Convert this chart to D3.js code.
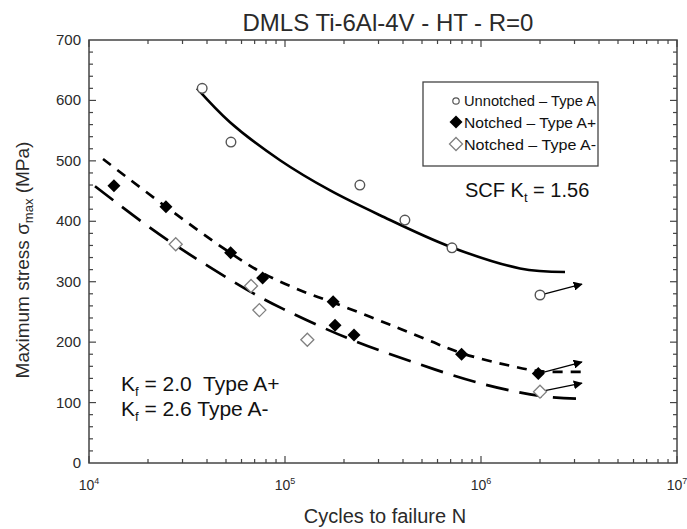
<!DOCTYPE html>
<html>
<head>
<meta charset="utf-8">
<script src="https://cdn.jsdelivr.net/npm/d3@7/dist/d3.min.js"></script>
<style>
  html, body { margin: 0; padding: 0; background: #fff; }
  svg { display: block; font-family: "Liberation Sans", Arial, sans-serif; }
</style>
</head>
<body>
<svg id="chart" width="687" height="529"></svg>
<script>
// ---------- data ----------
const title = "DMLS Ti-6Al-4V - HT - R=0";
const xDecades = [1e4, 1e5, 1e6, 1e7];
const xTickExponents = [4, 5, 6, 7];
const yTicks = [0, 100, 200, 300, 400, 500, 600, 700];

// Unnotched – Type A (open circles)
const unnotchedN     = [37800, 53000, 241000, 409000, 711000];
const unnotchedS     = [620, 531, 460, 402, 356];
// Notched – Type A+ (filled diamonds)
const notchedPlusN   = [13400, 24700, 52800, 76900, 176000, 180000, 225000, 796000];
const notchedPlusS   = [459, 424, 348, 306, 267, 228, 212, 180];
// Notched – Type A- (open diamonds)
const notchedMinusN  = [27700, 67100, 74000, 130000];
const notchedMinusS  = [362, 293, 253, 204];

// run-outs (point, arrow tip)
const runoutSeries = ["unnotched", "plus", "minus"];
const runoutN      = [2.0e6, 1.96e6, 2.0e6];
const runoutS      = [278, 148, 118];
const runoutTipN   = [3.27e6, 3.27e6, 3.27e6];
const runoutTipS   = [296, 167, 132];

// fitted curves
const fitUnN  = [35560, 52400, 94300, 169900, 305200, 695000, 1581000, 2683000];
const fitUnS  = [620, 564, 501, 451, 410, 358, 322, 316];
const fitPlusN = [11790, 24710, 52400, 77220, 119300, 177800, 271500, 386200, 549200, 790700, 1406000, 2000000, 3475000];
const fitPlusS = [503, 424, 348, 314, 286, 265, 242, 222, 202, 182, 161, 152, 151];
const fitMinusN = [10730, 18640, 26830, 39990, 68670, 97680, 207200, 449900, 988000, 2000000, 3276000];
const fitMinusS = [458, 399, 363, 327, 281, 255, 207, 167, 132, 111, 106];

const legendLabels = ["Unnotched – Type A", "Notched – Type A+", "Notched – Type A-"];

// ---------- layout ----------
const svg = d3.select("#chart");
const M = { left: 89, right: 677, top: 40, bottom: 463 };
const x = d3.scaleLog().domain([1e4, 1e7]).range([M.left, M.right]);
const y = d3.scaleLinear().domain([0, 700]).range([M.bottom, M.top]);
const txt = "#2a2a2a";

// title
svg.append("text").attr("x", 388).attr("y", 31).attr("text-anchor", "middle")
  .attr("font-size", 24).attr("fill", txt).text(title);

// frame
svg.append("rect").attr("x", M.left).attr("y", M.top)
  .attr("width", M.right - M.left).attr("height", M.bottom - M.top)
  .attr("fill", "none").attr("stroke", "#444").attr("stroke-width", 1.5);

// x ticks (major + minor) inward on bottom and top
const xMinor = [];
for (let d = 4; d < 7; d++) for (let k = 2; k <= 9; k++) xMinor.push(k * Math.pow(10, d));
const xt = svg.append("g").attr("stroke", "#444").attr("stroke-width", 1.2);
xMinor.forEach(v => {
  xt.append("line").attr("x1", x(v)).attr("x2", x(v)).attr("y1", M.bottom).attr("y2", M.bottom - 4);
  xt.append("line").attr("x1", x(v)).attr("x2", x(v)).attr("y1", M.top).attr("y2", M.top + 4);
});
xDecades.forEach(v => {
  xt.append("line").attr("x1", x(v)).attr("x2", x(v)).attr("y1", M.bottom).attr("y2", M.bottom - 7);
  xt.append("line").attr("x1", x(v)).attr("x2", x(v)).attr("y1", M.top).attr("y2", M.top + 7);
});
// x tick labels 10^n
xDecades.forEach((v, i) => {
  const t = svg.append("text").attr("x", x(v)).attr("y", 490).attr("text-anchor", "middle")
    .attr("font-size", 14).attr("fill", txt);
  t.append("tspan").text("10");
  t.append("tspan").attr("font-size", 9).attr("dy", -6).text(xTickExponents[i]);
});

// y ticks every 20, major every 100
const yt = svg.append("g").attr("stroke", "#444").attr("stroke-width", 1.2);
d3.range(20, 700, 20).forEach(v => {
  const len = v % 100 === 0 ? 7 : 4;
  yt.append("line").attr("x1", M.left).attr("x2", M.left + len).attr("y1", y(v)).attr("y2", y(v));
  yt.append("line").attr("x1", M.right).attr("x2", M.right - len).attr("y1", y(v)).attr("y2", y(v));
});
yTicks.forEach(v => {
  svg.append("text").attr("x", 81).attr("y", y(v) + 5).attr("text-anchor", "end")
    .attr("font-size", 15).attr("fill", txt).text(v);
});

// axis titles
svg.append("text").attr("x", 385).attr("y", 523).attr("text-anchor", "middle")
  .attr("font-size", 20).attr("fill", txt).text("Cycles to failure N");
const yl = svg.append("text").attr("transform", "translate(29,260) rotate(-90)")
  .attr("text-anchor", "middle").attr("font-size", 19).attr("fill", txt);
yl.append("tspan").text("Maximum stress σ");
yl.append("tspan").attr("font-size", 13).attr("dy", 4).text("max");
yl.append("tspan").attr("dy", -4).text(" (MPa)");

// curves
const line = d3.line().x(d => x(d[0])).y(d => y(d[1])).curve(d3.curveCatmullRom.alpha(0.5));
const zip = (a, b) => a.map((v, i) => [v, b[i]]);
svg.append("path").attr("d", line(zip(fitUnN, fitUnS))).attr("fill", "none")
  .attr("stroke", "#000").attr("stroke-width", 2.6);
svg.append("path").attr("d", line(zip(fitPlusN, fitPlusS))).attr("fill", "none")
  .attr("stroke", "#000").attr("stroke-width", 2.7).attr("stroke-dasharray", "10,8");
svg.append("path").attr("d", line(zip(fitMinusN, fitMinusS))).attr("fill", "none")
  .attr("stroke", "#000").attr("stroke-width", 2.7).attr("stroke-dasharray", "23,11");

// markers
const diamond = s => `M0,${-s}L${s},0L0,${s}L${-s},0Z`;
function drawCircle(g, cx, cy) {
  g.append("circle").attr("cx", cx).attr("cy", cy).attr("r", 4.8)
    .attr("fill", "#fff").attr("stroke", "#555").attr("stroke-width", 1.4);
}
function drawFilled(g, cx, cy) {
  g.append("path").attr("d", diamond(6.5)).attr("transform", `translate(${cx},${cy})`).attr("fill", "#000");
}
function drawOpen(g, cx, cy) {
  g.append("path").attr("d", diamond(6.5)).attr("transform", `translate(${cx},${cy})`)
    .attr("fill", "#fff").attr("stroke", "#808080").attr("stroke-width", 1.3);
}
const drawers = { unnotched: drawCircle, plus: drawFilled, minus: drawOpen };

// arrow marker
svg.append("defs").append("marker").attr("id", "arr").attr("viewBox", "0 0 10 10")
  .attr("refX", 9).attr("refY", 5).attr("markerWidth", 9).attr("markerHeight", 9)
  .attr("markerUnits", "userSpaceOnUse").attr("orient", "auto")
  .append("path").attr("d", "M0,0L10,5L0,10Z").attr("fill", "#000");

const gm = svg.append("g");
runoutSeries.forEach((s, i) => {
  gm.append("line").attr("x1", x(runoutN[i])).attr("y1", y(runoutS[i]))
    .attr("x2", x(runoutTipN[i])).attr("y2", y(runoutTipS[i]))
    .attr("stroke", "#000").attr("stroke-width", 1.3).attr("marker-end", "url(#arr)");
});
unnotchedN.forEach((n, i) => drawCircle(gm, x(n), y(unnotchedS[i])));
notchedPlusN.forEach((n, i) => drawFilled(gm, x(n), y(notchedPlusS[i])));
notchedMinusN.forEach((n, i) => drawOpen(gm, x(n), y(notchedMinusS[i])));
runoutSeries.forEach((s, i) => drawers[s](gm, x(runoutN[i]), y(runoutS[i])));

// legend
const lg = svg.append("g");
lg.append("rect").attr("x", 423).attr("y", 82).attr("width", 175).attr("height", 84)
  .attr("fill", "#fff").attr("stroke", "#444").attr("stroke-width", 1.3);
const legendDraw = [drawCircle, drawFilled, drawOpen];
legendLabels.forEach((lab, i) => {
  const cy = 100 + i * 22;
  if (i === 0) {
    lg.append("circle").attr("cx", 456).attr("cy", cy + 1).attr("r", 3.2)
      .attr("fill", "#fff").attr("stroke", "#555").attr("stroke-width", 1.2);
  } else {
    legendDraw[i](lg, 456, cy);
  }
  lg.append("text").attr("x", 464).attr("y", cy + 5.5).attr("font-size", 15)
    .attr("fill", "#111").attr("textLength", 132).attr("lengthAdjust", "spacingAndGlyphs").text(lab);
});

// annotations
const scf = svg.append("text").attr("x", 465).attr("y", 197).attr("font-size", 20).attr("fill", "#111");
scf.append("tspan").text("SCF K");
scf.append("tspan").attr("font-size", 13).attr("dy", 5).text("t");
scf.append("tspan").attr("dy", -5).text(" = 1.56");

const kfLines = [["2.0", "  Type A+"], ["2.6", " Type A-"]];
kfLines.forEach((kl, i) => {
  const t = svg.append("text").attr("x", 121).attr("y", 391 + i * 25).attr("font-size", 21)
    .attr("fill", "#111").attr("xml:space", "preserve").style("white-space", "pre");
  t.append("tspan").text("K");
  t.append("tspan").attr("font-size", 13).attr("dy", 5).text("f");
  t.append("tspan").attr("dy", -5).text(" = " + kl[0] + kl[1]);
});
</script>
</body>
</html>
